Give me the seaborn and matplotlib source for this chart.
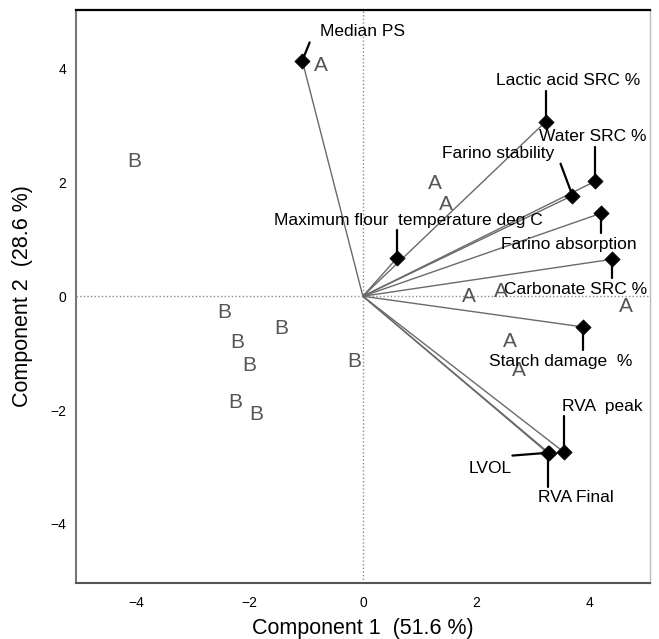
import matplotlib
matplotlib.use("Agg")
import matplotlib.pyplot as plt
import seaborn as sns
import pandas as pd

# ---- data ----
var_names = ["Median PS", "Lactic acid SRC %", "Water SRC %", "Farino stability",
             "Farino absorption", "Carbonate SRC %", "Starch damage  %", "RVA  peak",
             "LVOL", "RVA Final", "Maximum flour  temperature deg C"]
var_pc1 = [-1.07, 3.23, 4.10, 3.70, 4.21, 4.40, 3.89, 3.55, 3.28, 3.27, 0.61]
var_pc2 = [4.14, 3.07, 2.02, 1.77, 1.46, 0.65, -0.54, -2.74, -2.75, -2.76, 0.68]

obs_group = ["A", "A", "A", "A", "A", "A", "A", "A",
             "B", "B", "B", "B", "B", "B", "B", "B"]
obs_pc1 = [-0.75, 1.28, 1.47, 1.88, 2.44, 4.65, 2.59, 2.76,
           -4.04, -2.44, -1.45, -2.22, -2.00, -0.15, -2.26, -1.88]
obs_pc2 = [4.05, 1.98, 1.61, -0.01, 0.08, -0.18, -0.80, -1.31,
           2.36, -0.28, -0.56, -0.81, -1.21, -1.14, -1.87, -2.08]

x_ticks = [-4, -2, 0, 2, 4]
y_ticks = [-4, -2, 0, 2, 4]
x_label = "Component 1  (51.6 %)"
y_label = "Component 2  (28.6 %)"

# ---- label layout (leader-line end, text centre) in data units ----
label_layout = {
    "Median PS": ((-0.94, 4.46), (-0.75, 4.65), "left"),
    "Lactic acid SRC %": ((3.23, 3.61), (3.63, 3.80), "center"),
    "Water SRC %": ((4.10, 2.62), (4.05, 2.81), "center"),
    "Farino stability": ((3.49, 2.33), (2.39, 2.51), "center"),
    "Farino absorption": ((4.21, 1.11), (3.64, 0.91), "center"),
    "Carbonate SRC %": ((4.40, 0.32), (3.76, 0.11), "center"),
    "Starch damage  %": ((3.89, -0.95), (3.50, -1.14), "center"),
    "RVA  peak": ((3.55, -2.11), (4.23, -1.93), "center"),
    "LVOL": ((2.64, -2.80), (2.25, -3.02), "center"),
    "RVA Final": ((3.27, -3.35), (3.76, -3.54), "center"),
    "Maximum flour  temperature deg C": ((0.61, 1.16), (0.81, 1.33), "center"),
}

sns.set_style("white")
plt.rcParams["font.family"] = ["Liberation Sans", "DejaVu Sans"]

fig = plt.figure(figsize=(6.59, 6.39), dpi=100)
ax = fig.add_axes([0.1149, 0.0876, 0.8715, 0.8967])

# zero reference lines
ax.axhline(0, color="#8a8a8a", lw=1.0, ls=(0, (1, 1.6)), zorder=1)
ax.axvline(0, color="#8a8a8a", lw=1.0, ls=(0, (1, 1.6)), zorder=1)

# vectors from origin
rows = []
for n, x, y in zip(var_names, var_pc1, var_pc2):
    rows.append({"var": n, "x": 0.0, "y": 0.0, "o": 0})
    rows.append({"var": n, "x": x, "y": y, "o": 1})
vec_df = pd.DataFrame(rows)
sns.lineplot(data=vec_df, x="x", y="y", units="var", estimator=None, sort=False,
             color="#6a6a6a", lw=1.0, ax=ax, zorder=2)

# observation letters
for g, x, y in zip(obs_group, obs_pc1, obs_pc2):
    ax.text(x, y, g, fontsize=15, color="#555555", ha="center", va="center", zorder=3)

# variable diamonds
var_df = pd.DataFrame({"x": var_pc1, "y": var_pc2, "name": var_names})
sns.scatterplot(data=var_df, x="x", y="y", marker="D", s=60, color="black",
                edgecolor="black", linewidth=0.5, ax=ax, zorder=5)

# leader lines and labels
for n, x, y in zip(var_names, var_pc1, var_pc2):
    (lx, ly), (tx, ty), ha = label_layout[n]
    ax.plot([x, lx], [y, ly], color="black", lw=1.6, zorder=4)
    ax.text(tx, ty, n, fontsize=12.5, color="black", ha=ha, va="center", zorder=6)

ax.set_xlim(-5.07, 5.07)
ax.set_ylim(-5.04, 5.03)
ax.set_xticks(x_ticks)
ax.set_yticks(y_ticks)
ax.set_xticklabels([f"{t}".replace("-", "\u2212") for t in x_ticks])
ax.set_yticklabels([f"{t}".replace("-", "\u2212") for t in y_ticks])
ax.tick_params(axis="both", length=0, labelsize=10, colors="black")
ax.tick_params(axis="x", pad=9)
ax.tick_params(axis="y", pad=7)

ax.set_xlabel(x_label, fontsize=15.5, va="center", color="black")
ax.set_ylabel(y_label, fontsize=15.5, va="center", color="black")
ax.xaxis.set_label_coords(0.5, -0.0785)
ax.yaxis.set_label_coords(-0.093, 0.5)

for side, col, lw in [("top", "black", 1.6), ("left", "#777777", 1.5),
                      ("bottom", "#555555", 1.5), ("right", "#bbbbbb", 1.0)]:
    ax.spines[side].set_visible(True)
    ax.spines[side].set_color(col)
    ax.spines[side].set_linewidth(lw)

fig.savefig("out.png", dpi=100)
